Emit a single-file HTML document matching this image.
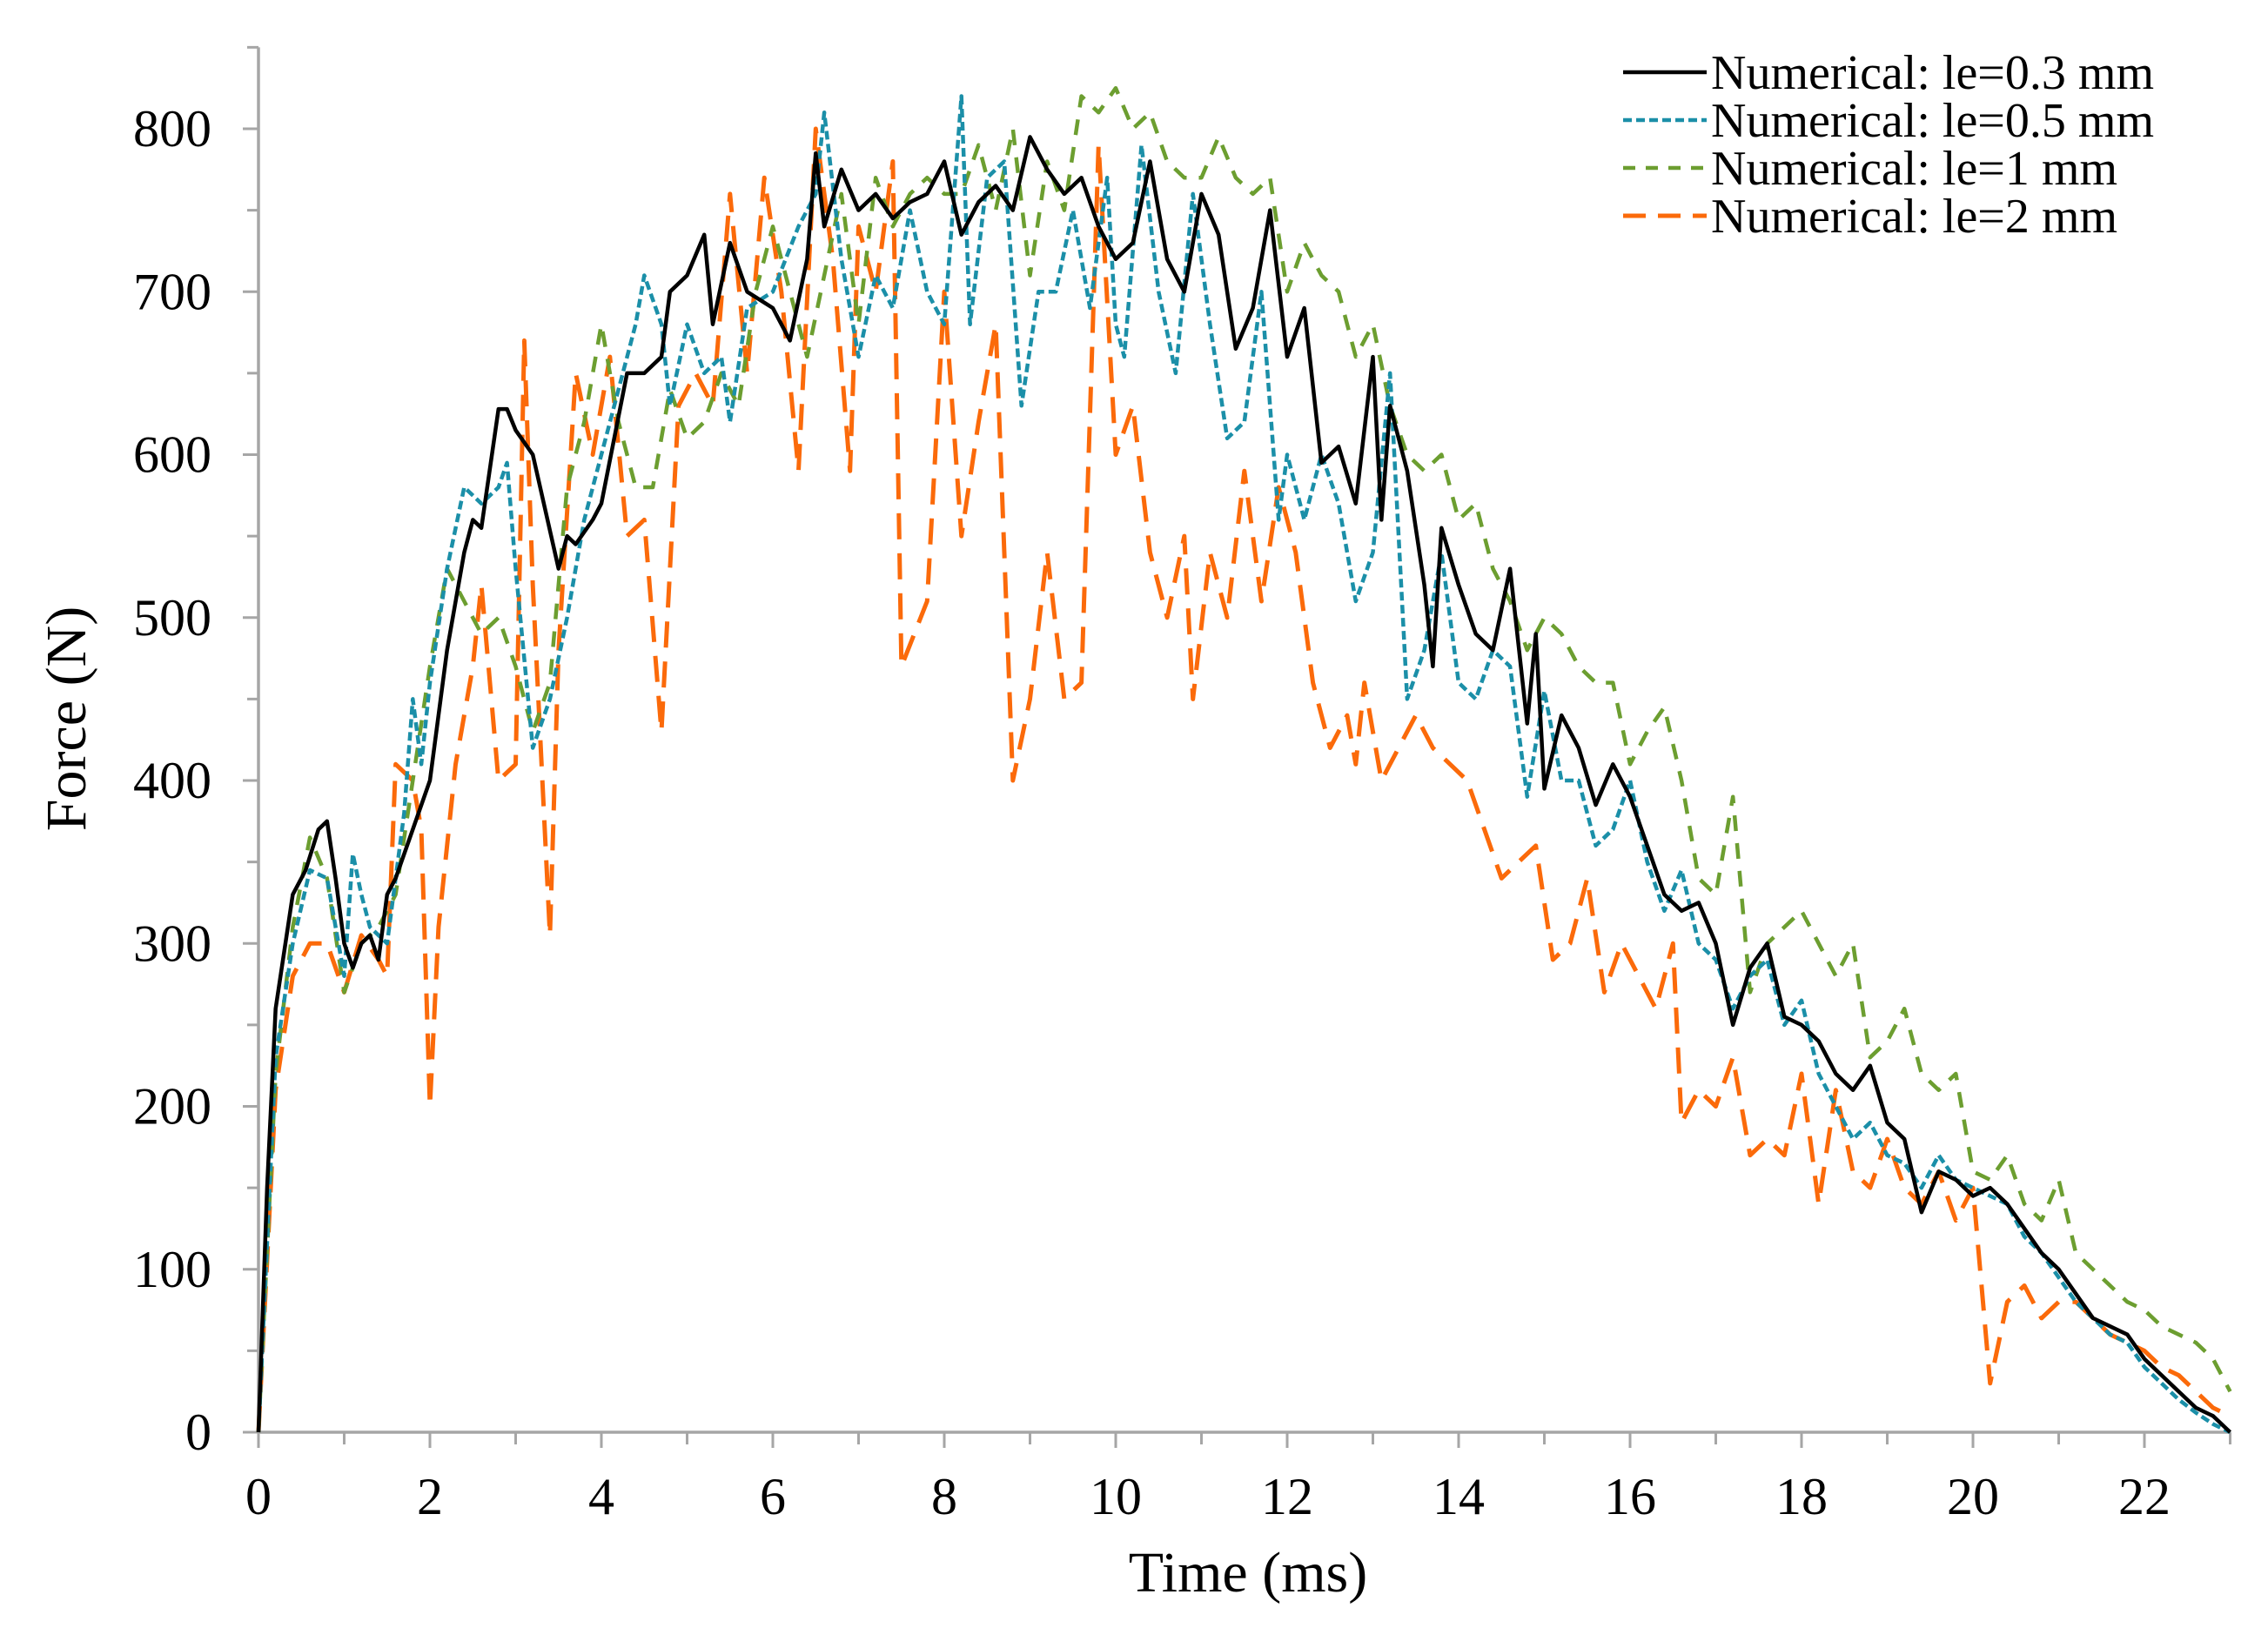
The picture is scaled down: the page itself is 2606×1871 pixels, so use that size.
<!DOCTYPE html>
<html><head><meta charset="utf-8"><style>
html,body{margin:0;padding:0;background:#fff;}
svg{display:block;font-family:"Liberation Serif",serif;}
</style></head><body>
<svg id="chart" width="2606" height="1871" viewBox="0 0 2606 1871" xmlns="http://www.w3.org/2000/svg">
<g id="axes"></g>
<g id="series"></g>
<g id="legend"></g>
<text x="0" y="0" transform="translate(98,826) rotate(-90)" text-anchor="middle" font-size="66">Force (N)</text>
<text x="1434" y="1829" text-anchor="middle" font-size="66">Time (ms)</text>
</svg>
<script>
const xTicks=[0,2,4,6,8,10,12,14,16,18,20,22];
const yTicks=[0,100,200,300,400,500,600,700,800];
const seriesNames=["Numerical: le=0.3 mm","Numerical: le=0.5 mm","Numerical: le=1 mm","Numerical: le=2 mm"];
const tBlack=[0,0.1,0.2,0.4,0.55,0.7,0.8,0.9,1.0,1.1,1.2,1.3,1.4,1.5,1.6,1.8,2.0,2.2,2.4,2.5,2.6,2.8,2.9,3.0,3.2,3.5,3.6,3.7,3.9,4.0,4.3,4.5,4.7,4.8,5.0,5.2,5.3,5.5,5.7,6.0,6.2,6.4,6.5,6.6,6.8,7.0,7.2,7.4,7.6,7.8,8.0,8.2,8.4,8.6,8.8,9.0,9.2,9.4,9.6,9.8,10.0,10.2,10.4,10.6,10.8,11.0,11.2,11.4,11.6,11.8,12.0,12.2,12.4,12.6,12.8,13.0,13.1,13.2,13.4,13.6,13.7,13.8,14.0,14.2,14.4,14.6,14.8,14.9,15.0,15.2,15.4,15.6,15.8,16.0,16.2,16.4,16.6,16.8,17.0,17.2,17.4,17.6,17.8,18.0,18.2,18.4,18.6,18.8,19.0,19.2,19.4,19.6,19.8,20.0,20.2,20.4,20.6,20.8,21.0,21.2,21.4,21.6,21.8,22.0,22.2,22.4,22.6,22.8,23.0];
const fBlack=[0,150,260,330,345,370,375,340,300,285,300,305,290,330,340,370,400,480,540,560,555,628,628,615,600,530,550,545,560,570,650,650,660,700,710,735,680,730,700,690,670,720,785,740,775,750,760,745,755,760,780,735,755,765,750,795,775,760,770,740,720,730,780,720,700,760,735,665,690,750,660,690,595,605,570,660,560,630,590,520,470,555,520,490,480,530,435,490,395,440,420,385,410,390,360,330,320,325,300,250,285,300,255,250,240,220,210,225,190,180,135,160,155,145,150,140,125,110,100,85,70,65,60,45,35,25,15,10,0];
const tBlue=[0,0.2,0.4,0.6,0.8,1.0,1.1,1.2,1.3,1.5,1.7,1.8,1.9,2.0,2.2,2.4,2.6,2.8,2.9,3.0,3.2,3.4,3.6,3.8,4.0,4.2,4.4,4.5,4.7,4.8,5.0,5.2,5.4,5.5,5.7,6.0,6.3,6.5,6.6,6.8,7.0,7.2,7.4,7.6,7.8,8.0,8.2,8.3,8.5,8.7,8.9,9.1,9.3,9.5,9.7,9.9,10.0,10.1,10.3,10.5,10.7,10.9,11.1,11.3,11.5,11.7,11.9,12.0,12.2,12.4,12.6,12.8,13.0,13.2,13.4,13.6,13.8,14.0,14.2,14.4,14.6,14.8,15.0,15.2,15.4,15.6,15.8,16.0,16.2,16.4,16.6,16.8,17.0,17.2,17.4,17.6,17.8,18.0,18.2,18.4,18.6,18.8,19.0,19.2,19.4,19.6,19.8,20.0,20.2,20.4,20.6,20.8,21.0,21.2,21.4,21.6,21.8,22.0,22.2,22.4,22.6,22.8,23.0];
const fBlue=[0,230,300,345,340,280,355,330,310,300,380,450,410,460,530,580,570,580,595,530,420,450,500,560,600,640,680,710,680,630,680,650,660,620,690,700,740,760,810,720,660,710,690,750,700,680,820,680,770,780,630,700,700,750,690,770,680,660,790,700,650,760,680,610,620,700,560,600,560,600,570,510,540,650,450,480,540,460,450,480,470,390,455,400,400,360,370,400,350,320,345,300,290,260,280,290,250,265,220,200,180,190,170,165,150,170,155,150,145,140,120,110,95,80,70,60,55,40,30,20,12,5,0];
const tGreen=[0,0.2,0.4,0.6,0.8,1.0,1.2,1.4,1.6,1.8,2.0,2.2,2.4,2.6,2.8,3.0,3.2,3.4,3.6,3.8,4.0,4.2,4.4,4.6,4.8,5.0,5.2,5.4,5.6,5.8,6.0,6.2,6.4,6.6,6.8,7.0,7.2,7.4,7.6,7.8,8.0,8.2,8.4,8.6,8.8,9.0,9.2,9.4,9.6,9.8,10.0,10.2,10.4,10.6,10.8,11.0,11.2,11.4,11.6,11.8,12.0,12.2,12.4,12.6,12.8,13.0,13.2,13.4,13.6,13.8,14.0,14.2,14.4,14.6,14.8,15.0,15.2,15.4,15.6,15.8,16.0,16.2,16.4,16.6,16.8,17.0,17.2,17.4,17.6,17.8,18.0,18.2,18.4,18.6,18.8,19.0,19.2,19.4,19.6,19.8,20.0,20.2,20.4,20.6,20.8,21.0,21.2,21.4,21.6,21.8,22.0,22.2,22.4,22.6,22.8,23.0];
const fGreen=[0,220,310,365,340,270,300,310,330,400,470,530,510,490,500,470,430,460,580,620,680,620,580,580,640,610,620,650,630,700,740,700,660,710,760,680,770,740,760,770,760,760,790,750,800,710,780,750,820,810,825,800,810,780,770,770,795,770,760,770,700,730,710,700,660,680,630,600,590,600,560,570,530,510,480,500,490,470,460,460,410,430,445,400,340,330,390,270,300,310,320,300,280,300,230,240,260,220,210,220,160,155,170,140,130,155,110,100,90,80,75,65,60,55,45,25];
const tOrange=[0,0.2,0.4,0.6,0.8,1.0,1.2,1.4,1.5,1.6,1.8,1.9,2.0,2.1,2.3,2.5,2.6,2.8,3.0,3.1,3.2,3.4,3.5,3.7,3.9,4.1,4.3,4.5,4.7,4.9,5.1,5.3,5.5,5.7,5.9,6.1,6.3,6.5,6.7,6.9,7.0,7.2,7.4,7.5,7.8,8.0,8.2,8.4,8.6,8.8,9.0,9.2,9.4,9.6,9.8,10.0,10.2,10.4,10.6,10.8,10.9,11.1,11.3,11.5,11.7,11.9,12.1,12.3,12.5,12.7,12.8,12.9,13.1,13.3,13.5,13.7,13.9,14.1,14.3,14.5,14.7,14.9,15.1,15.3,15.5,15.7,15.9,16.1,16.3,16.5,16.6,16.8,17.0,17.2,17.4,17.6,17.8,18.0,18.2,18.4,18.6,18.8,19.0,19.2,19.4,19.6,19.8,20.0,20.2,20.4,20.6,20.8,21.0,21.2,21.4,21.6,21.8,22.0,22.2,22.4,22.6,22.8,23.0];
const fOrange=[0,210,280,300,300,270,305,290,280,410,400,370,200,310,410,470,520,400,410,670,520,305,480,650,600,660,550,560,430,630,650,630,760,650,770,700,590,800,720,590,740,700,780,470,510,700,550,620,680,400,450,540,450,460,790,600,630,540,500,550,450,540,500,590,510,580,540,460,420,440,410,460,400,420,440,420,410,400,370,340,350,360,290,300,340,270,300,280,260,300,190,210,200,230,170,180,170,220,140,210,160,150,180,150,140,160,130,150,30,80,90,70,80,80,70,60,55,50,40,35,25,15,10];

const NS="http://www.w3.org/2000/svg";
const X0=297,PX=98.5,Y0=1646,PY=1.8725;
function xs(t){return X0+t*PX;}
function ys(v){return Y0-v*PY;}
function mk(tag,attrs,parent){const e=document.createElementNS(NS,tag);for(const k in attrs)e.setAttribute(k,attrs[k]);parent.appendChild(e);return e;}
const axes=document.getElementById('axes');
const ax=mk('path',{d:`M${X0},${ys(850)}L${X0},${Y0}L${xs(23)},${Y0}`,fill:'none',stroke:'#a6a6a6','stroke-width':3.5},axes);


for(let v=0;v<=850;v+=50){
  const major=v%100===0;
  const tk=mk('line',{x1:X0-(major?18:13),x2:X0,y1:ys(v),y2:ys(v),stroke:'#a6a6a6','stroke-width':3},axes);
  
  
}
yTicks.forEach(v=>{
  const t=mk('text',{x:243,y:ys(v)+20,'text-anchor':'end','font-size':60},axes);
  t.textContent=v;
  
  
});
for(let t=0;t<=23;t++){
  const major=t%2===0;
  const tk=mk('line',{x1:xs(t),x2:xs(t),y1:Y0,y2:Y0+(major?18:14),stroke:'#a6a6a6','stroke-width':3},axes);
  
  
}
xTicks.forEach(v=>{
  const t=mk('text',{x:xs(v),y:1740,'text-anchor':'middle','font-size':60},axes);
  t.textContent=v;
  
  
});
const styles=[
 {c:'#000000',w:4.5,d:''},
 {c:'#1b8fa8',w:4.5,d:'10 5'},
 {c:'#6c9e30',w:4.5,d:'18 14'},
 {c:'#fb6a0a',w:5,d:'30 16'}];
const data=[[tBlack,fBlack],[tBlue,fBlue],[tGreen,fGreen],[tOrange,fOrange]];
const sg=document.getElementById('series');
const names=['series-le-0-3','series-le-0-5','series-le-1','series-le-2'];
[3,2,1,0].forEach(i=>{
  const [T,F]=data[i];
  const d=T.map((t,j)=>(j?'L':'M')+xs(t).toFixed(1)+','+ys(F[j]).toFixed(1)).join('');
  const p=mk('path',{d:d,fill:'none',stroke:styles[i].c,'stroke-width':styles[i].w,'stroke-dasharray':styles[i].d,'stroke-linejoin':'round'},sg);
  
  
});
const lg=document.getElementById('legend');
const rows=[83,138,193,248];
seriesNames.forEach((n,i)=>{
  const l=mk('line',{x1:1865,x2:1961,y1:rows[i],y2:rows[i],stroke:styles[i].c,'stroke-width':styles[i].w,'stroke-dasharray':i===3?'26 14':(i===2?'14 12':styles[i].d)},lg);
  
  
  const t=mk('text',{x:1966,y:rows[i]+19,'font-size':56},lg);
  t.textContent=n;
  
  
});
</script>
</body></html>
